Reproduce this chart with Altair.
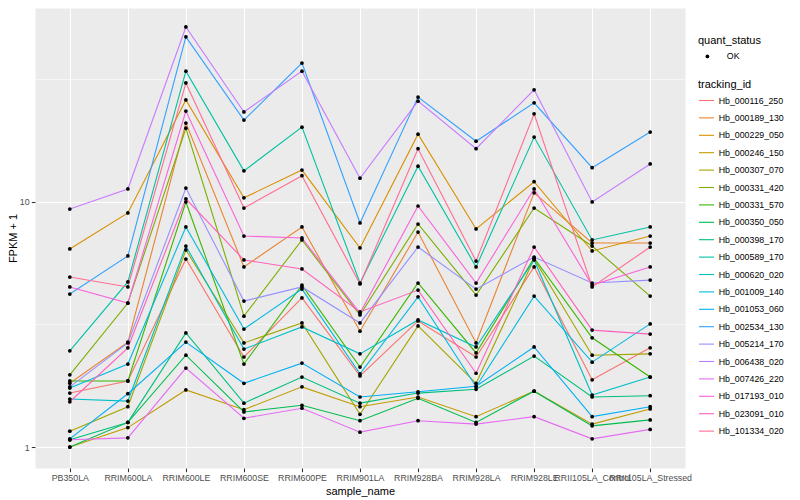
import altair as alt
import pandas as pd

samples = ["PB350LA", "RRIM600LA", "RRIM600LE", "RRIM600SE", "RRIM600PE", "RRIM901LA",
           "RRIM928BA", "RRIM928LA", "RRIM928LE", "RRII105LA_Control", "RRII105LA_Stressed"]

tracking_ids = ["Hb_000116_250", "Hb_000189_130", "Hb_000229_050", "Hb_000246_150", "Hb_000307_070",
                "Hb_000331_420", "Hb_000331_570", "Hb_000350_050", "Hb_000398_170", "Hb_000589_170",
                "Hb_000620_020", "Hb_001009_140", "Hb_001053_060", "Hb_002534_130", "Hb_005214_170",
                "Hb_006438_020", "Hb_007426_220", "Hb_017193_010", "Hb_023091_010", "Hb_101334_020"]

colors = ["#F8766D", "#EA8331", "#D89000", "#C09B00", "#A3A500", "#7CAE00", "#39B600", "#00BB4E",
          "#00BF7D", "#00C1A3", "#00BFC4", "#00BAE0", "#00B0F6", "#35A2FF", "#9590FF", "#C77CFF",
          "#E76BF3", "#FA62DB", "#FF62BC", "#FF6C91"]

# FPKM + 1 per sample, in the order of `samples`
hb_000116_250 = [1.66, 1.86, 5.85, 2.33, 4.06, 1.95, 3.27, 2.33, 5.43, 1.88, 2.54]
hb_000189_130 = [1.82, 2.68, 21.0, 5.43, 7.91, 2.97, 7.54, 2.66, 10.9, 6.80, 6.80]
hb_000229_050 = [6.43, 9.02, 26.1, 10.4, 13.5, 6.49, 18.9, 7.76, 12.1, 6.31, 7.26]
hb_000246_150 = [1.00, 1.20, 1.71, 1.42, 1.76, 1.46, 1.60, 1.33, 1.69, 1.24, 1.43]
hb_000307_070 = [1.16, 1.46, 6.37, 2.66, 3.21, 1.36, 3.12, 1.82, 5.85, 2.37, 2.40]
hb_000331_420 = [1.97, 3.87, 20.0, 3.42, 7.00, 3.46, 8.13, 4.17, 9.45, 6.61, 4.13]
hb_000331_570 = [1.86, 1.86, 10.0, 2.18, 4.58, 2.12, 4.67, 2.42, 5.91, 2.79, 1.93]
hb_000350_050 = [1.00, 1.26, 2.37, 1.39, 1.48, 1.28, 1.58, 1.26, 1.69, 1.22, 1.29]
hb_000398_170 = [1.07, 1.26, 2.92, 1.51, 1.93, 1.51, 1.66, 1.72, 2.35, 1.60, 1.62]
hb_000589_170 = [2.47, 4.72, 34.2, 13.4, 20.2, 4.67, 14.0, 5.43, 18.4, 7.00, 7.91]
hb_000620_020 = [1.57, 1.54, 6.61, 2.51, 3.09, 2.40, 3.30, 2.56, 5.80, 1.63, 1.93]
hb_001009_140 = [1.74, 2.18, 7.91, 3.03, 4.41, 1.99, 4.10, 1.76, 4.13, 2.22, 3.18]
hb_001053_060 = [1.08, 1.65, 2.68, 1.82, 2.20, 1.60, 1.68, 1.77, 2.56, 1.33, 1.46]
hb_002534_130 = [4.21, 6.02, 47.2, 21.6, 36.9, 8.21, 26.8, 17.7, 25.4, 13.8, 19.3]
hb_005214_170 = [1.76, 2.66, 11.4, 3.94, 4.50, 3.21, 6.55, 4.41, 5.96, 4.67, 4.80]
hb_006438_020 = [9.36, 11.3, 51.8, 23.3, 34.2, 12.5, 25.8, 16.5, 28.7, 10.0, 14.3]
hb_007426_220 = [1.07, 1.09, 2.10, 1.31, 1.44, 1.15, 1.28, 1.24, 1.33, 1.08, 1.18]
hb_017193_010 = [4.50, 3.87, 23.5, 7.26, 7.13, 3.52, 9.63, 4.67, 11.3, 4.58, 5.43]
hb_023091_010 = [1.53, 2.54, 10.3, 5.80, 5.33, 3.56, 4.37, 2.00, 6.55, 3.00, 2.89]
hb_101334_020 = [4.94, 4.50, 30.6, 9.45, 12.8, 4.63, 16.5, 5.74, 22.9, 4.50, 6.55]

series = [hb_000116_250, hb_000189_130, hb_000229_050, hb_000246_150, hb_000307_070,
          hb_000331_420, hb_000331_570, hb_000350_050, hb_000398_170, hb_000589_170,
          hb_000620_020, hb_001009_140, hb_001053_060, hb_002534_130, hb_005214_170,
          hb_006438_020, hb_007426_220, hb_017193_010, hb_023091_010, hb_101334_020]

major_breaks = [1, 10]
minor_breaks = [3.1623, 31.623]

rows = []
for tid, vals in zip(tracking_ids, series):
    for s, v in zip(samples, vals):
        rows.append({"tracking_id": tid, "sample_name": s, "fpkm": v, "quant_status": "OK"})
df = pd.DataFrame(rows)

FONT = "Liberation Sans"

x_enc = alt.X("sample_name:N", sort=samples,
              scale=alt.Scale(type="point", padding=0.6),
              axis=alt.Axis(title="sample_name", labelAngle=0, titlePadding=3))
y_scale = alt.Scale(type="log", domain=[0.821, 61.9], nice=False)

minor = alt.Chart(pd.DataFrame({"fpkm": minor_breaks})).mark_rule(
    color="white", strokeWidth=0.55
).encode(y=alt.Y("fpkm:Q", scale=y_scale))

lines = alt.Chart(df).mark_line(strokeWidth=1.1).encode(
    x=x_enc,
    y=alt.Y("fpkm:Q", scale=y_scale,
            axis=alt.Axis(title="FPKM + 1", values=major_breaks, format="d", titlePadding=0.5)),
    color=alt.Color("tracking_id:N",
                    scale=alt.Scale(domain=tracking_ids, range=colors),
                    legend=alt.Legend(title="tracking_id", orient="none", legendX=663, legendY=71,
                                      symbolType="stroke", symbolSize=225, symbolStrokeWidth=1.1,
                                      labelOffset=3.7, rowPadding=3.4, titlePadding=2, padding=0)),
)

points = alt.Chart(df).mark_point(filled=True, color="black", size=14, opacity=1).encode(
    x=x_enc,
    y=alt.Y("fpkm:Q", scale=y_scale),
    shape=alt.Shape("quant_status:N", scale=alt.Scale(domain=["OK"], range=["circle"]),
                    legend=alt.Legend(title="quant_status", orient="none", legendX=663, legendY=27,
                                      symbolSize=14, symbolFillColor="black", symbolStrokeColor="black",
                                      symbolOffset=5, labelOffset=15, titlePadding=6, padding=0)),
)

chart = alt.layer(minor, lines, points).properties(
    width=650, height=460,
    autosize=alt.AutoSizeParams(type="none"),
    padding={"left": 27, "top": 0, "right": 107, "bottom": 32},
).configure_view(
    fill="#EBEBEB", stroke="transparent"
).configure_axis(
    domain=False, grid=True, gridColor="white", gridWidth=1.07,
    tickColor="#333333", tickSize=3.7, tickWidth=1.07,
    labelColor="#4D4D4D", labelFontSize=8.8, labelPadding=2.2, labelFont=FONT,
    titleFontSize=11, titleFontWeight="normal", titleColor="black", titleFont=FONT,
).configure_legend(
    labelFontSize=8.8, labelColor="black", labelFont=FONT,
    titleFontSize=11, titleFontWeight="normal", titleColor="black", titleFont=FONT,
)

chart.save("out.html", embed_options={"renderer": "svg", "actions": False})
